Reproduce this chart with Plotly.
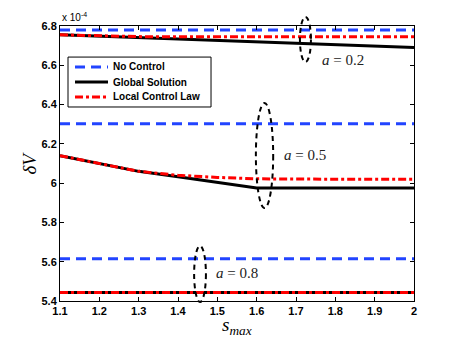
import plotly.graph_objects as go

# s_max values
s_max = [1.1, 1.2, 1.3, 1.4, 1.5, 1.6, 1.7, 1.8, 1.9, 2.0]

# delta V values (x 1e-4)
no_ctrl_02 = [6.78] * 10
global_02 = [6.755, 6.748, 6.741, 6.733, 6.726, 6.719, 6.712, 6.705, 6.698, 6.691]
local_02 = [6.755, 6.750, 6.746, 6.745, 6.745, 6.745, 6.745, 6.745, 6.745, 6.745]

no_ctrl_05 = [6.303] * 10
global_05 = [6.14, 6.10, 6.06, 6.032, 6.003, 5.975, 5.975, 5.975, 5.975, 5.975]
local_05 = [6.14, 6.10, 6.06, 6.04, 6.029, 6.022, 6.02, 6.02, 6.02, 6.02]

no_ctrl_08 = [5.615] * 10
global_08 = [5.443] * 10
local_08 = [5.443] * 10

y_ticks = [5.4, 5.6, 5.8, 6.0, 6.2, 6.4, 6.6, 6.8]
y_ticktext = ["5.4", "5.6", "5.8", "6", "6.2", "6.4", "6.6", "6.8"]
x_ticks = [1.1, 1.2, 1.3, 1.4, 1.5, 1.6, 1.7, 1.8, 1.9, 2.0]
x_ticktext = ["1.1", "1.2", "1.3", "1.4", "1.5", "1.6", "1.7", "1.8", "1.9", "2"]

series_names = ["No Control", "Global Solution", "Local Control Law"]

# ellipse markers (s0, s1, dv0, dv1) and labels (s, dv, text)
ellipses = [(1.710, 1.738, 6.617, 6.846), (1.598, 1.642, 5.873, 6.408), (1.441, 1.471, 5.395, 5.68)]
labels = [(1.82, 6.627, "a = 0.2"), (1.723, 6.143, "a = 0.5"), (1.55, 5.543, "a = 0.8")]

X_RANGE = [1.1, 2.0]
Y_RANGE = [5.4, 6.8]

BLUE = "#2244ff"
RED = "#ff0000"
styles = [dict(color=BLUE, width=3, dash="10px,6px"),
          dict(color="black", width=3),
          dict(color=RED, width=3, dash="8px,3px,3px,3px")]

fig = go.Figure()

groups = [(no_ctrl_02, global_02, local_02), (no_ctrl_05, global_05, local_05), (no_ctrl_08, global_08, local_08)]
for grp in groups:
    for name, vals, st in zip(series_names, grp, styles):
        fig.add_trace(go.Scatter(x=s_max, y=vals, mode="lines", name=name,
                                 showlegend=False, line=st))


def to_px(s):
    return (s - X_RANGE[0]) / (X_RANGE[1] - X_RANGE[0])


def to_py(v):
    return (v - Y_RANGE[0]) / (Y_RANGE[1] - Y_RANGE[0])


for s0, s1, v0, v1 in ellipses:
    fig.add_shape(type="circle", xref="paper", yref="paper",
                  x0=to_px(s0), x1=to_px(s1), y0=to_py(v0), y1=to_py(v1),
                  line=dict(color="black", width=2, dash="5px,4px"))

for s, v, t in labels:
    a, rest = t.split(" ", 1)
    fig.add_annotation(x=s, y=v, xref="x", yref="y", showarrow=False,
                       text="<i>" + a + "</i> " + rest,
                       font=dict(family="Liberation Serif", size=15, color="#222"))

# legend box drawn by hand (plotly's legend rows are taller than the original)
fig.add_shape(type="rect", xref="paper", yref="paper", x0=0.0226, x1=0.4266, y0=0.7055, y1=0.887,
              line=dict(color="black", width=1), fillcolor="white", layer="above")
rows_y = [0.851, 0.796, 0.742]
for name, st, yy in zip(series_names, styles, rows_y):
    fig.add_shape(type="line", xref="paper", yref="paper", x0=0.0424, x1=0.1356, y0=yy, y1=yy,
                  line=st, layer="above")
    fig.add_annotation(x=0.144, y=yy, xref="paper", yref="paper", xanchor="left", yanchor="middle",
                       showarrow=False, text=name,
                       font=dict(family="Liberation Sans", size=10, color="black", weight="bold"))

# exponent label
fig.add_annotation(x=0, y=1, xref="paper", yref="paper", xanchor="left", yanchor="bottom",
                   showarrow=False, yshift=1, text="x 10<sup>-4</sup>",
                   font=dict(family="Liberation Sans", size=10, color="black"))
# axis titles
fig.add_annotation(x=0, y=0.5, xref="paper", yref="paper", xanchor="center", yanchor="middle",
                   xshift=-31, showarrow=False, textangle=-90, text="<i>δV</i>",
                   font=dict(family="Liberation Serif", size=19, color="black"))
fig.add_annotation(x=0.5, y=0, xref="paper", yref="paper", xanchor="center", yanchor="middle",
                   yshift=-25, showarrow=False, text="<i>s</i><sub><i>max</i></sub>",
                   font=dict(family="Liberation Serif", size=19, color="black"))

axis_common = dict(showgrid=False, zeroline=False, showline=True, linecolor="black", linewidth=1,
                   mirror="ticks", ticks="inside", ticklen=4, tickcolor="black",
                   tickfont=dict(family="Liberation Sans", size=11, color="black", weight="bold"))

fig.update_xaxes(range=X_RANGE, tickvals=x_ticks, ticktext=x_ticktext, **axis_common)
fig.update_yaxes(range=Y_RANGE, tickvals=y_ticks, ticktext=y_ticktext, **axis_common)

# page body has an 8px margin, so the figure is shrunk by that amount
fig.update_layout(
    width=449, height=331,
    margin=dict(l=52, r=43, t=18, b=38),
    plot_bgcolor="white", paper_bgcolor="white",
    showlegend=False,
)

fig.write_html("out.html")
